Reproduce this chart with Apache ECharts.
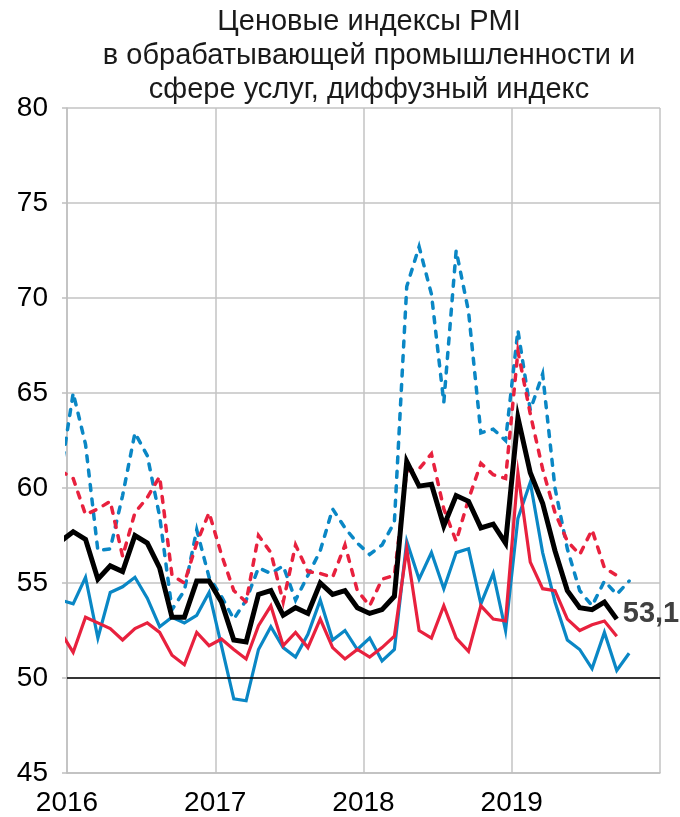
<!DOCTYPE html>
<html>
<head>
<meta charset="utf-8">
<script src="https://cdn.jsdelivr.net/npm/echarts@6/dist/echarts.min.js"></script>
<style>
  body { margin: 0; background: #fff; }
  #chart { width: 680px; height: 817px; }
</style>
</head>
<body>
<div id="chart"></div>
<script>
// месяцы: первая точка - декабрь 2015, далее помесячно
const firstYear = 2015;
const firstMonth = 12;
const yearLabels = ['2016', '2017', '2018', '2019'];

// композитный индекс (чёрная линия)
const composite = [57.2,
  57.7, 57.3, 55.2, 55.9, 55.6, 57.5, 57.1, 55.8, 53.2, 53.2, 55.1, 55.1,
  54.0, 52.0, 51.9, 54.4, 54.6, 53.3, 53.7, 53.4, 55.0, 54.4, 54.6, 53.7,
  53.4, 53.6, 54.3, 61.4, 60.1, 60.2, 58.0, 59.6, 59.3, 57.9, 58.1, 57.1,
  63.7, 60.8, 59.2, 56.7, 54.6, 53.7, 53.6, 54.0, 53.1];

// синяя пунктирная
const blueDashed = [60.8,
  65.0, 62.3, 56.7, 56.8, 59.6, 62.9, 61.7, 58.5, 53.6, 54.6, 57.8, 55.3,
  54.3, 53.1, 54.1, 55.8, 55.5, 55.9, 54.1, 55.4, 56.7, 58.9, 57.9, 57.1,
  56.5, 57.0, 58.2, 70.6, 72.7, 70.2, 64.5, 72.5, 69.3, 62.9, 63.1, 62.5,
  68.3, 64.1, 66.0, 60.0, 56.8, 54.6, 53.8, 55.1, 54.4, 55.1];

// красная пунктирная
const redDashed = [60.9,
  60.5, 58.6, 58.9, 59.3, 56.4, 58.7, 59.5, 60.6, 55.4, 55.0, 57.1, 58.7,
  56.5, 54.6, 54.0, 57.5, 56.6, 54.0, 57.0, 55.6, 55.5, 55.3, 57.0, 54.6,
  53.8, 55.2, 55.4, 60.9, 61.0, 61.8, 58.9, 57.2, 59.4, 61.3, 60.7, 60.5,
  67.2, 63.9, 61.0, 58.7, 57.2, 56.5, 57.8, 55.8, 55.4];

// синяя сплошная
const blueSolid = [54.1,
  53.9, 55.3, 52.1, 54.5, 54.8, 55.3, 54.2, 52.7, 53.2, 52.9, 53.3, 54.5,
  51.7, 48.9, 48.8, 51.5, 52.7, 51.6, 51.1, 52.3, 54.1, 52.0, 52.5, 51.5,
  52.1, 50.9, 51.5, 57.2, 55.2, 56.6, 54.7, 56.6, 56.8, 53.9, 55.5, 52.5,
  58.4, 60.3, 56.6, 54.0, 52.0, 51.5, 50.5, 52.4, 50.4, 51.3];

// красная сплошная
const redSolid = [52.4,
  51.35, 53.2, 52.9, 52.6, 52.0, 52.6, 52.9, 52.4, 51.2, 50.7, 52.4, 51.7,
  52.05, 51.5, 51.0, 52.75, 53.8, 51.7, 52.4, 51.6, 53.1, 51.6, 51.0, 51.5,
  51.1, 51.6, 52.2, 56.8, 52.5, 52.1, 53.8, 52.1, 51.4, 53.8, 53.1, 53.0,
  60.8, 56.1, 54.7, 54.6, 53.1, 52.5, 52.8, 53.0, 52.2];

const BLUE = '#0a87c5';
const RED = '#e8213e';
const FONT = "'Liberation Sans', Arial, sans-serif";

// точка месяца ставится в середину месяца (ось - месяцы от января 2016)
function toPoints(values) {
  const base = (firstYear - 2016) * 12 + (firstMonth - 1);
  return values.map((v, i) => [base + i + 0.5, v]);
}

function lineSeries(name, values, color, width, dashed) {
  return {
    name: name,
    type: 'line',
    data: toPoints(values),
    symbol: 'none',
    clip: true,
    lineStyle: {
      color: color,
      width: width,
      type: dashed ? [6, 8.5] : 'solid',
      cap: dashed ? 'round' : 'butt',
      join: 'miter'
    },
    z: 2
  };
}

const chart = echarts.init(document.getElementById('chart'));

const option = {
  animation: false,
  backgroundColor: '#fff',
  title: {
    text: 'Ценовые индексы PMI\nв обрабатывающей промышленности и\nсфере услуг, диффузный индекс',
    left: 364,
    top: 0,
    textAlign: 'center',
    textStyle: {
      fontFamily: FONT,
      fontSize: 29,
      fontWeight: 'normal',
      color: '#1a1a1a',
      lineHeight: 34
    }
  },
  grid: { left: 67, right: 20, top: 108, bottom: 44 },
  xAxis: {
    type: 'value',
    min: 0,
    max: 48,
    interval: 12,
    axisLine: { show: true, lineStyle: { color: '#bfbfbf', width: 1.5 } },
    axisTick: { show: false },
    splitLine: { show: true, lineStyle: { color: '#c3c3c3', width: 1.5 } },
    axisLabel: {
      margin: 16,
      fontFamily: FONT,
      fontSize: 28,
      color: '#000',
      formatter: v => yearLabels[v / 12] || ''
    }
  },
  yAxis: {
    type: 'value',
    min: 45,
    max: 80,
    interval: 5,
    axisLine: { show: true, lineStyle: { color: '#bfbfbf', width: 1.5 } },
    axisTick: { show: true, length: 5, lineStyle: { color: '#bfbfbf', width: 1.5 } },
    splitLine: { show: true, lineStyle: { color: '#c3c3c3', width: 1.5 } },
    axisLabel: {
      margin: 19,
      fontFamily: FONT,
      fontSize: 28,
      color: '#000'
    }
  },
  series: [
    lineSeries('Услуги, цены затрат', blueDashed, BLUE, 3.5, true),
    lineSeries('Обработка, цены затрат', redDashed, RED, 3.5, true),
    lineSeries('Услуги, отпускные цены', blueSolid, BLUE, 3.2, false),
    lineSeries('Обработка, отпускные цены', redSolid, RED, 3.2, false),
    Object.assign(lineSeries('Композитный', composite, '#000', 5, false), {
      z: 3,
      endLabel: {
        show: true,
        distance: 6,
        offset: [0, -5],
        fontFamily: FONT,
        fontSize: 29,
        fontWeight: 'bold',
        color: '#404040',
        formatter: p => p.value[1].toFixed(1).replace('.', ',')
      },
      markLine: {
        silent: true,
        symbol: 'none',
        label: { show: false },
        lineStyle: { color: '#000', width: 1.5, type: 'solid' },
        data: [{ yAxis: 50 }]
      }
    })
  ]
};

chart.setOption(option);
</script>
</body>
</html>
